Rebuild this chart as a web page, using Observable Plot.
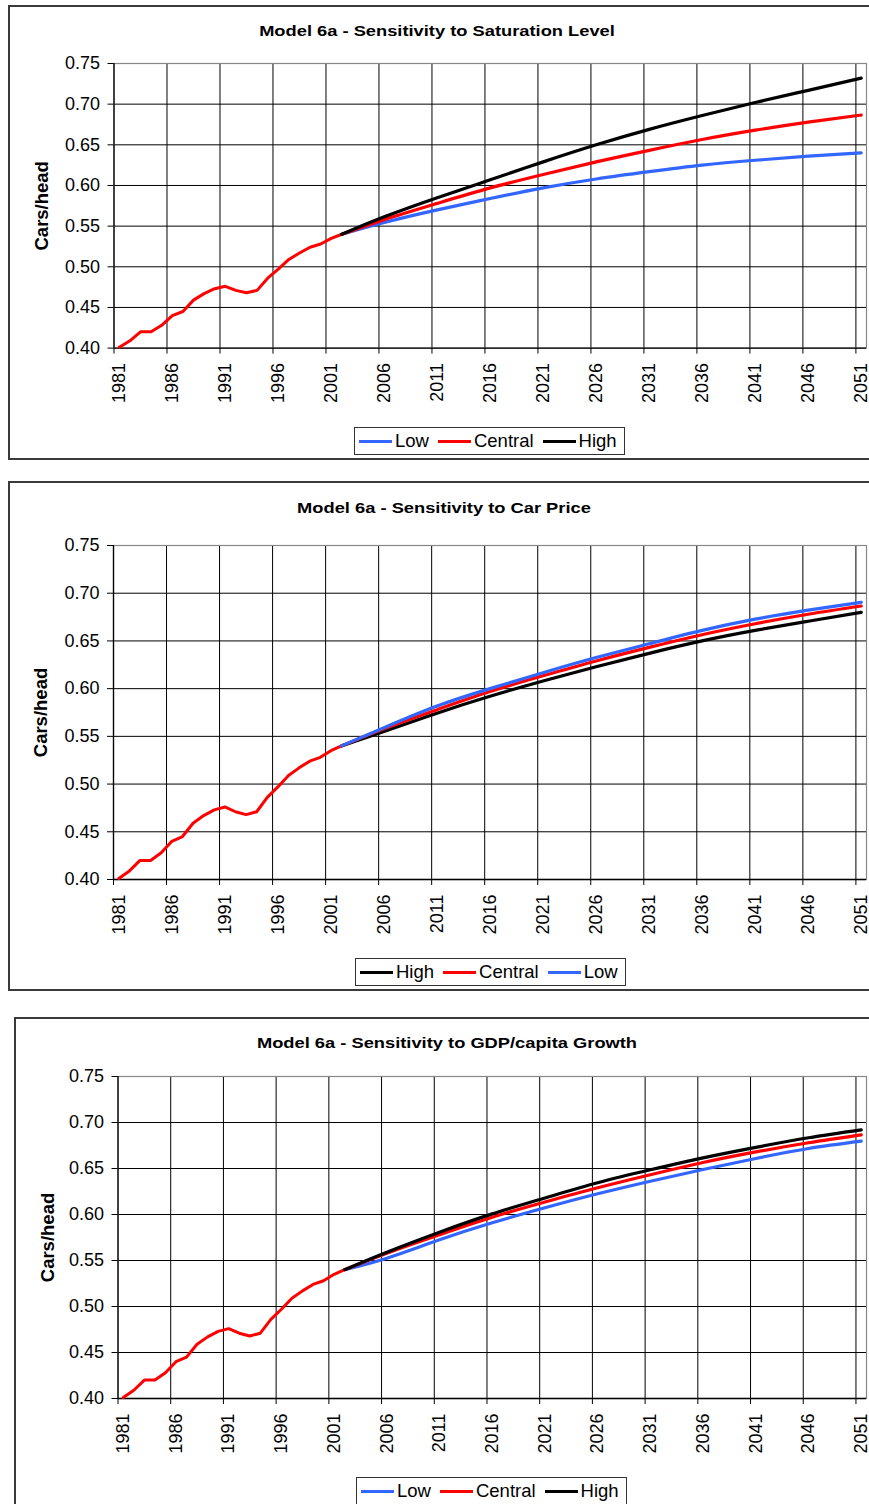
<!DOCTYPE html>
<html>
<head>
<meta charset="utf-8">
<script src="https://cdn.jsdelivr.net/npm/d3@7"></script>
<script src="https://cdn.jsdelivr.net/npm/@observablehq/plot@0.6"></script>
<style>
  html, body { margin: 0; padding: 0; background: #fff; }
  body { font-family: Arial, "Liberation Sans", sans-serif; color: #000; }
  #page { position: relative; width: 869px; height: 1504px; overflow: hidden; background: #fff; }
  .frame { position: absolute; border: 2px solid #3a3a3a; box-sizing: border-box; background: #fff; }
  .title { position: absolute; font-weight: bold; font-size: 15.5px; white-space: nowrap; transform: translate(-50%, -50%) scaleX(1.18); }
  .legend { position: absolute; border: 1px solid #333; box-sizing: border-box; height: 28px; display: flex; align-items: center; padding: 0 7px 0 4px; font-size: 18.5px; background: #fff; }
  .legend .item { display: flex; align-items: center; margin-right: 9px; }
  .legend .item:last-child { margin-right: 0; }
  .legend .sw { width: 33px; height: 3px; margin-right: 3px; }
  .chart { position: absolute; left: 0; }
</style>
</head>
<body>
<div id="page"></div>
<script>
// ---------------- DATA ----------------
const histYears  = [1981, 1982, 1983, 1984, 1985, 1986, 1987, 1988, 1989, 1990, 1991,
                    1992, 1993, 1994, 1995, 1996, 1997, 1998, 1999, 2000, 2001];
const histValues = [0.401, 0.409, 0.420, 0.420, 0.428, 0.440, 0.445, 0.459, 0.467, 0.473, 0.476,
                    0.471, 0.468, 0.471, 0.486, 0.497, 0.509, 0.517, 0.524, 0.528, 0.535];

const projYears   = [2002, 2006, 2011, 2016, 2021, 2026, 2031, 2036, 2041, 2046, 2051];
const centralProj = [0.540, 0.558, 0.578, 0.597, 0.6135, 0.629, 0.6432, 0.6565, 0.668, 0.678, 0.6866];

// Sensitivity to saturation level
const satLow  = [0.540, 0.5545, 0.570, 0.584, 0.597, 0.608, 0.617, 0.625, 0.631, 0.636, 0.640];
const satHigh = [0.540, 0.5615, 0.585, 0.607, 0.629, 0.650, 0.669, 0.686, 0.702, 0.717, 0.732];
// Sensitivity to car price
const priceHigh = [0.540, 0.555, 0.5743, 0.592, 0.608, 0.623, 0.637, 0.650, 0.661, 0.6706, 0.680];
const priceLow  = [0.540, 0.559, 0.5817, 0.600, 0.6167, 0.6326, 0.647, 0.661, 0.6728, 0.6823, 0.6905];
// Sensitivity to GDP/capita growth
const gdpLow  = [0.540, 0.5525, 0.5725, 0.591, 0.6073, 0.6225, 0.6362, 0.6489, 0.6609, 0.6717, 0.6797];
const gdpHigh = [0.540, 0.559, 0.5808, 0.6007, 0.618, 0.6345, 0.6486, 0.6616, 0.673, 0.6834, 0.692];

const yTicks = [0.40, 0.45, 0.50, 0.55, 0.60, 0.65, 0.70, 0.75];
const xTickLabels = [1981, 1986, 1991, 1996, 2001, 2006, 2011, 2016, 2021, 2026, 2031, 2036, 2041, 2046, 2051];

const titles = [
  "Model 6a - Sensitivity to Saturation Level",
  "Model 6a - Sensitivity to Car Price",
  "Model 6a - Sensitivity to GDP/capita Growth"
];
const yLabel = "Cars/head";

// ---------------- STYLE / LAYOUT ----------------
const colors = {Low: "#3366FF", Central: "#FF0000", High: "#000000"};
const W = 869;
const charts = [
  {title: titles[0], order: ["Low", "Central", "High"], values: {Low: satLow, Central: centralProj, High: satHigh},
   plotLeft: 113.5, plotRight: 866, plotTop: 62.7, plotBottom: 347.3, labelDx: -72,
   frame: {left: 8, top: 5, height: 455}, titleX: 437, titleY: 31, legend: {left: 354, top: 427}},
  {title: titles[1], order: ["High", "Central", "Low"], values: {Low: priceLow, Central: centralProj, High: priceHigh},
   plotLeft: 113, plotRight: 866, plotTop: 545, plotBottom: 879, labelDx: -72,
   frame: {left: 8, top: 481, height: 510}, titleX: 443.5, titleY: 508, legend: {left: 355, top: 958}},
  {title: titles[2], order: ["Low", "Central", "High"], values: {Low: gdpLow, Central: centralProj, High: gdpHigh},
   plotLeft: 117.5, plotRight: 866, plotTop: 1076, plotBottom: 1398, labelDx: -70,
   frame: {left: 14, top: 1017, height: 520}, titleX: 447, titleY: 1043, legend: {left: 356, top: 1477}}
];

const page = document.getElementById("page");
const histRows = histYears.map((year, i) => ({year, value: histValues[i]}));

charts.forEach(cfg => {
  // frame
  const fr = document.createElement("div");
  fr.className = "frame";
  Object.assign(fr.style, {left: cfg.frame.left + "px", top: cfg.frame.top + "px", width: (W + 20 - cfg.frame.left) + "px", height: cfg.frame.height + "px"});
  page.appendChild(fr);

  // title
  const t = document.createElement("div");
  t.className = "title";
  t.textContent = cfg.title;
  Object.assign(t.style, {left: cfg.titleX + "px", top: cfg.titleY + "px"});
  page.appendChild(t);

  // plot
  const mTop = 12, mBottom = 72;
  const height = (cfg.plotBottom - cfg.plotTop) + mTop + mBottom;
  const boundaries = xTickLabels.map(y => y - 0.5);
  const xDomain = [histYears[0] - 0.5, projYears[projYears.length - 1] + 0.5];
  const yDomain = [yTicks[0], yTicks[yTicks.length - 1]];

  const lineMarks = [];
  cfg.order.forEach(name => {
    const rows = projYears.map((year, i) => ({year, value: cfg.values[name][i]}));
    if (name === "Central") {
      lineMarks.push(Plot.line(histRows.concat([rows[0]]), {x: "year", y: "value", stroke: colors[name], strokeWidth: 3, strokeLinejoin: "round"}));
    }
    lineMarks.push(Plot.line(rows, {x: "year", y: "value", stroke: colors[name], strokeWidth: 3.2, curve: "natural", strokeLinecap: "round"}));
  });

  const svg = Plot.plot({
    width: W,
    height,
    marginLeft: cfg.plotLeft,
    marginRight: W - cfg.plotRight,
    marginTop: mTop,
    marginBottom: mBottom,
    style: {fontFamily: "Arial, 'Liberation Sans', sans-serif", fontSize: "18px", background: "transparent", overflow: "visible", color: "#000"},
    x: {domain: xDomain},
    y: {domain: yDomain},
    marks: [
      Plot.ruleX(boundaries.slice(1), {stroke: "#000", strokeWidth: 1}),
      Plot.ruleY(yTicks.slice(1, -1), {stroke: "#000", strokeWidth: 1}),
      Plot.frame({stroke: "#888", strokeWidth: 1.2}),
      Plot.ruleX([xDomain[0]], {stroke: "#000", strokeWidth: 1.3}),
      Plot.ruleY([yDomain[0]], {stroke: "#000", strokeWidth: 1.3}),
      ...lineMarks,
      Plot.axisY(yTicks, {tickSize: 6, tickPadding: 8, tickFormat: d3.format(".2f"), fontSize: 18, label: null}),
      Plot.axisX(boundaries, {tickSize: 6, tickFormat: () => "", label: null}),
      Plot.axisX(xTickLabels, {tickSize: 0, tickPadding: 15, tickRotate: -90, tickFormat: d => String(d), fontSize: 18, label: null}),
      Plot.text([yLabel], {frameAnchor: "left", textAnchor: "middle", rotate: -90, dx: cfg.labelDx, fontWeight: "bold", fontSize: 18.5})
    ]
  });
  svg.classList.add("chart");
  svg.style.top = (cfg.plotTop - mTop) + "px";
  svg.style.position = "absolute";
  page.appendChild(svg);

  // legend
  const lg = document.createElement("div");
  lg.className = "legend";
  Object.assign(lg.style, {left: cfg.legend.left + "px", top: cfg.legend.top + "px"});
  cfg.order.forEach(name => {
    const it = document.createElement("div");
    it.className = "item";
    const sw = document.createElement("div");
    sw.className = "sw";
    sw.style.background = colors[name];
    const tx = document.createElement("span");
    tx.textContent = name;
    it.appendChild(sw); it.appendChild(tx);
    lg.appendChild(it);
  });
  page.appendChild(lg);
});
</script>
</body>
</html>
